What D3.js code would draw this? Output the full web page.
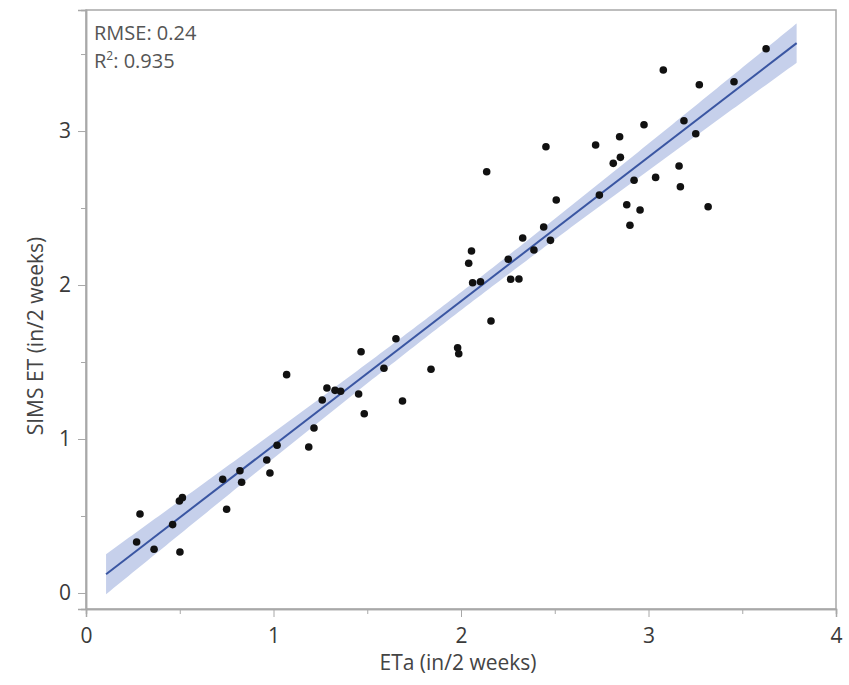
<!DOCTYPE html>
<html>
<head>
<meta charset="utf-8">
<script src="https://cdn.jsdelivr.net/npm/d3@7"></script>
<style>
  body { margin: 0; background: #fff; }
  text { font-family: "Open Sans", "Noto Sans", sans-serif; }
</style>
</head>
<body>
<svg id="chart" width="849" height="685"></svg>
<script>
// ETa (x) and SIMS ET (y), in/2 weeks
const etaValues = [
  0.270, 0.288, 0.363, 0.462, 0.498, 0.514, 0.501, 0.729, 0.750, 0.821,
  0.830, 0.964, 0.981, 1.019, 1.188, 1.216, 1.070, 1.260, 1.285, 1.328,
  1.358, 1.454, 1.467, 1.484, 1.589, 1.653, 1.688, 1.840, 1.982, 1.988,
  2.041, 2.056, 2.062, 2.104, 2.137, 2.160, 2.252, 2.265, 2.309, 2.329,
  2.389, 2.441, 2.453, 2.477, 2.508, 2.718, 2.738, 2.812, 2.846, 2.850,
  2.884, 2.901, 2.923, 2.955, 2.976, 3.038, 3.079, 3.163, 3.170, 3.189,
  3.252, 3.271, 3.318, 3.456, 3.627
]
const simsValues = [
  0.331, 0.513, 0.284, 0.444, 0.597, 0.619, 0.266, 0.738, 0.544, 0.794,
  0.719, 0.864, 0.779, 0.959, 0.948, 1.071, 1.418, 1.253, 1.331, 1.316,
  1.310, 1.292, 1.567, 1.164, 1.459, 1.651, 1.247, 1.453, 1.593, 1.554,
  2.141, 2.221, 2.015, 2.021, 2.736, 1.766, 2.167, 2.037, 2.039, 2.305,
  2.227, 2.377, 2.898, 2.290, 2.552, 2.909, 2.584, 2.790, 2.963, 2.829,
  2.521, 2.388, 2.680, 2.487, 3.041, 2.699, 3.396, 2.773, 2.638, 3.067,
  2.982, 3.301, 2.508, 3.320, 3.534
]

const xTicks = [0, 1, 2, 3, 4]
const xMinorTicks = [0.5, 1.5, 2.5, 3.5]
const yTicks = [0, 1, 2, 3]
const yMinorTicks = [0.5, 1.5, 2.5, 3.5]
const fitExtent = [0.107, 3.79]
const rmseText = 'RMSE: 0.24'
const r2Text = '0.935'
const xTitle = 'ETa (in/2 weeks)'
const yTitle = 'SIMS ET (in/2 weeks)'

const frame = { left: 86, top: 10, right: 836, bottom: 609 }

let svg = d3.select('#chart')

let x = d3.scaleLinear().domain([0, 4]).range([frame.left, frame.right])
let y = d3.scaleLinear().domain([-0.104, 3.786]).range([frame.bottom, frame.top])

// least squares fit + 95% confidence band of the mean
let n = etaValues.length
let mx = d3.mean(etaValues), my = d3.mean(simsValues)
let sxx = d3.sum(etaValues, v => (v - mx) ** 2)
let sxy = d3.sum(etaValues, (v, i) => (v - mx) * (simsValues[i] - my))
let slope = sxy / sxx
let intercept = my - slope * mx
let sse = d3.sum(etaValues, (v, i) => (simsValues[i] - intercept - slope * v) ** 2)
let s = Math.sqrt(sse / (n - 2))
let tval = 1.998
let fit = v => intercept + slope * v
let half = v => tval * s * Math.sqrt(1 / n + (v - mx) ** 2 / sxx)

let grid = d3.range(fitExtent[0], fitExtent[1], 0.02).concat([fitExtent[1]])

svg.append('path')
  .datum(grid)
  .attr('fill', '#c6d0eb')
  .attr('d', d3.area()
    .x(v => x(v))
    .y0(v => y(fit(v) - half(v)))
    .y1(v => y(fit(v) + half(v))))

svg.append('path')
  .datum(fitExtent)
  .attr('fill', 'none')
  .attr('stroke', '#3a56a2')
  .attr('stroke-width', 2)
  .attr('d', d3.line().x(v => x(v)).y(v => y(fit(v))))

// frame
svg.append('rect')
  .attr('x', frame.left).attr('y', frame.top)
  .attr('width', frame.right - frame.left).attr('height', frame.bottom - frame.top)
  .attr('fill', 'none').attr('stroke', '#a8a8a8').attr('stroke-width', 1.5)

// x axis
let gx = svg.append('g').attr('transform', `translate(0,${frame.bottom})`)
gx.call(d3.axisBottom(x).tickValues(xTicks).tickSize(8).tickFormat(d3.format('d')))
gx.append('g').call(d3.axisBottom(x).tickValues(xMinorTicks).tickSize(5).tickFormat(''))
gx.selectAll('.domain').attr('stroke', '#a8a8a8').attr('stroke-width', 1.5)
gx.selectAll('line').attr('stroke', '#a8a8a8')
gx.selectAll('text').attr('font-size', 21).attr('fill', '#3a3a3a').attr('y', 34).attr('dy', 0)
  .style('font-family', '"Open Sans", sans-serif')

// y axis
let gy = svg.append('g').attr('transform', `translate(${frame.left},0)`)
gy.call(d3.axisLeft(y).tickValues(yTicks).tickSize(8).tickFormat(d3.format('d')))
gy.append('g').call(d3.axisLeft(y).tickValues(yMinorTicks).tickSize(5).tickFormat(''))
gy.selectAll('.domain').attr('stroke', '#a8a8a8').attr('stroke-width', 1.5)
gy.selectAll('line').attr('stroke', '#a8a8a8')
gy.selectAll('text').attr('font-size', 21).attr('fill', '#3a3a3a').attr('x', -15)
  .style('font-family', '"Open Sans", sans-serif')

// points
svg.append('g')
  .selectAll('circle')
  .data(etaValues)
  .join('circle')
  .attr('cx', d => x(d))
  .attr('cy', (d, i) => y(simsValues[i]))
  .attr('r', 3.8)
  .attr('fill', '#111')

// titles
svg.append('text')
  .attr('x', 458).attr('y', 670)
  .attr('text-anchor', 'middle').attr('font-size', 21).attr('fill', '#444')
  .text(xTitle)

svg.append('text')
  .attr('transform', `translate(43,336) rotate(-90)`)
  .attr('text-anchor', 'middle').attr('font-size', 21).attr('fill', '#444')
  .text(yTitle)

// stats box text
svg.append('text')
  .attr('x', 94).attr('y', 40).attr('font-size', 20).attr('fill', '#555')
  .text(rmseText)

let r2 = svg.append('text')
  .attr('x', 94).attr('y', 68).attr('font-size', 20).attr('fill', '#555')
r2.append('tspan').text('R')
r2.append('tspan').attr('font-size', 12).attr('dy', -8).text('2')
r2.append('tspan').attr('dy', 8).text(': ' + r2Text)
</script>
</body>
</html>
